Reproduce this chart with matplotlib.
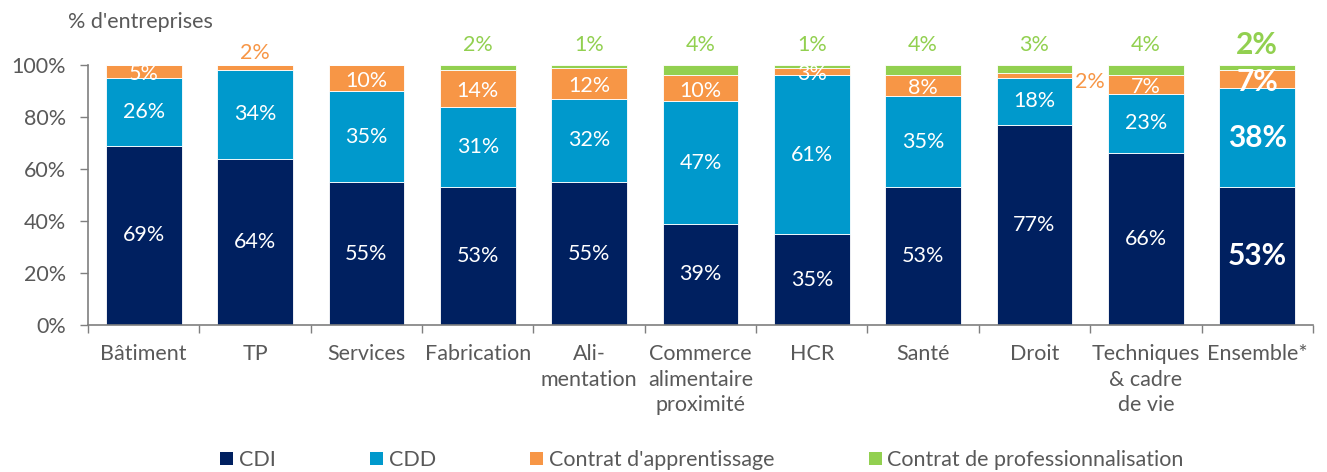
import matplotlib
matplotlib.use("Agg")
import matplotlib.pyplot as plt
from matplotlib.patches import Patch

plt.rcParams['font.family'] = ['Lato', 'DejaVu Sans']

categories = ["Bâtiment", "TP", "Services", "Fabrication", "Ali-\nmentation",
              "Commerce\nalimentaire\nproximité", "HCR", "Santé", "Droit",
              "Techniques\n& cadre\nde vie", "Ensemble*"]
cdi = [69, 64, 55, 53, 55, 39, 35, 53, 77, 66, 53]
cdd = [26, 34, 35, 31, 32, 47, 61, 35, 18, 23, 38]
apprentissage = [5, 2, 10, 14, 12, 10, 3, 8, 2, 7, 7]
professionnalisation = [0, 0, 0, 2, 1, 4, 1, 4, 3, 4, 2]
series_names = ["CDI", "CDD", "Contrat d'apprentissage", "Contrat de professionnalisation"]
yticks = [0, 20, 40, 60, 80, 100]

colors = ["#002060", "#0099CC", "#F79646", "#92D050"]
gray = "#595959"
FS = 15.5

fig = plt.figure(figsize=(13.27, 4.72), dpi=100)
ax = fig.add_axes([0.0663, 0.3114, 0.9231, 0.5509])

x = list(range(len(categories)))
w = 0.68
series = [cdi, cdd, apprentissage, professionnalisation]
bottoms = [0] * len(categories)
n = len(categories)
for si, vals in enumerate(series):
    ax.bar(x, vals, w, bottom=bottoms, color=colors[si], edgecolor="white", linewidth=0.6)
    for i, v in enumerate(vals):
        last = (i == n - 1)
        fs = 21.5 if last else FS
        fw = "bold" if last else "normal"
        if v == 0:
            continue
        if si < 2 or (si == 2 and v >= 3):
            ax.text(i, bottoms[i] + v / 2 - (1 if si == 2 else 0), f"{v}%", ha="center", va="center",
                    color="white", fontsize=fs, fontweight=fw)
        elif si == 2:
            if i == 8:
                ax.text(i + w / 2 + 0.02, bottoms[i] + v / 2 - 2.5, f"{v}%", ha="left", va="center",
                        color=colors[2], fontsize=fs, fontweight=fw)
            else:
                ax.text(i, 104.5, f"{v}%", ha="center", va="center",
                        color=colors[2], fontsize=fs, fontweight=fw)
        else:
            ax.text(i, 107.5, f"{v}%", ha="center", va="center",
                    color=colors[3], fontsize=fs, fontweight=fw)
    bottoms = [b + v for b, v in zip(bottoms, vals)]

ax.set_xlim(-0.5, n - 0.5)
ax.set_ylim(0, 100)
ax.set_yticks(yticks)
ax.set_yticklabels([f"{t}%" for t in yticks], fontsize=FS, color=gray)
ax.set_xticks(x)
ax.set_xticklabels(categories, fontsize=FS, color=gray, linespacing=1.32, va="top")
ax.tick_params(axis="x", length=0, pad=14)
ax.set_xticks([i + 0.5 for i in range(-1, n)], minor=True)
ax.tick_params(axis="x", which="minor", length=6, color="#7f7f7f", width=1)
ax.tick_params(axis="y", length=6, color="#7f7f7f", width=1, pad=10)
for s in ["top", "right"]:
    ax.spines[s].set_visible(False)
ax.spines["left"].set_color("#7f7f7f")
ax.spines["bottom"].set_color("#7f7f7f")
ax.spines["left"].set_linewidth(1.2)
ax.spines["bottom"].set_linewidth(1.2)

fig.text(68 / 1327, 1 - 22 / 472, "% d'entreprises", fontsize=FS, color=gray,
         ha="left", va="center")

handles = [Patch(facecolor=c, edgecolor="none") for c in colors]
leg = fig.legend(handles, series_names, loc="center", bbox_to_anchor=(0.529, 1 - 460 / 472),
                 ncol=4, frameon=False, fontsize=FS, handlelength=0.6, handleheight=0.6,
                 handletextpad=0.25, columnspacing=4.4)
for t in leg.get_texts():
    t.set_color(gray)

fig.savefig("out.png", dpi=100)
